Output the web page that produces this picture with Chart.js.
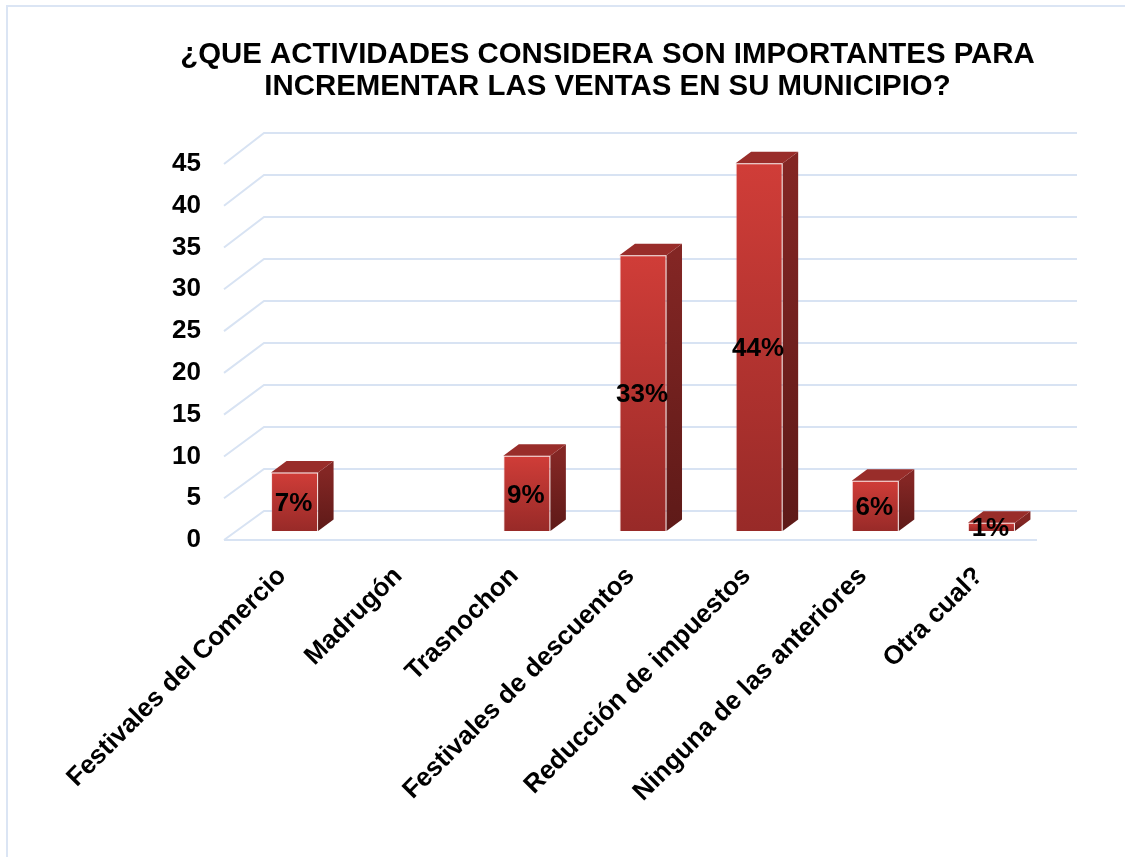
<!DOCTYPE html>
<html>
<head>
<meta charset="utf-8">
<script src="https://cdn.jsdelivr.net/npm/chart.js@4"></script>
<style>
  html, body { margin: 0; background: #fff; }
  #frame { position: absolute; left: 6px; top: 5px; width: 1119px; height: 852px; border-left: 2px solid #dbe5f4; border-top: 2px solid #dbe5f4; box-sizing: border-box; }
  #chart { position: absolute; left: 0; top: 0; }
</style>
</head>
<body>
<div id="frame"></div>
<canvas id="chart" width="1125" height="857"></canvas>
<script>
const titleLines = ["¿QUE ACTIVIDADES CONSIDERA SON IMPORTANTES PARA", "INCREMENTAR LAS VENTAS EN SU MUNICIPIO?"];
const categories = ["Festivales del Comercio", "Madrugón", "Trasnochon", "Festivales de descuentos", "Reducción de impuestos", "Ninguna de las anteriores", "Otra cual?"];
const values = [7, 0, 9, 33, 44, 6, 1];
const yTicks = [0, 5, 10, 15, 20, 25, 30, 35, 40, 45];

const FONT = "'Liberation Sans', Arial, sans-serif";
const WALL_DX = 40, WALL_DY = -29, WALL_SCALE = 1.0053; // back wall is a bit taller than the front plane
const BAR_DX = 12.5, BAR_DY = -9;      // bars stand inside the floor
const SIDE_DX = 15.5, SIDE_DY = -11.5; // bar depth

function frontFill(context) {
    const y = context.chart.scales.y;
    const top = context.parsed ? y.getPixelForValue(context.parsed.y) : NaN;
    const bottom = y.getPixelForValue(0);
    if (!isFinite(top) || !isFinite(bottom)) return "#c53935";
    const g = context.chart.ctx.createLinearGradient(0, top, 0, bottom);
    g.addColorStop(0, "#d03d38");
    g.addColorStop(1, "#982a28");
    return g;
}

function face(ctx, pts, fill) {
    ctx.beginPath();
    pts.forEach((p, i) => i ? ctx.lineTo(p[0], p[1]) : ctx.moveTo(p[0], p[1]));
    ctx.closePath();
    ctx.fillStyle = fill;
    ctx.fill();
}

const floorAndDepth = {
    id: "floorAndDepth",
    afterLayout(chart) {
        // title is centred on the plot plus its axis, not on the canvas
        chart.titleBlock.right = chart.width;
    },
    beforeDatasetsDraw(chart) {
        const ctx = chart.ctx, x = chart.scales.x, y = chart.scales.y;
        const floor = y.getPixelForValue(0);
        ctx.save();
        ctx.strokeStyle = "#d8e3f3";
        ctx.lineWidth = 2;
        y.ticks.forEach(t => {
            const py = y.getPixelForValue(t.value);
            const back = floor + WALL_DY - (floor - py) * WALL_SCALE;
            ctx.beginPath();
            ctx.moveTo(x.left, py);
            ctx.lineTo(x.left + WALL_DX, back);
            ctx.lineTo(x.right + WALL_DX, back);
            ctx.stroke();
        });
        ctx.beginPath();
        ctx.moveTo(x.left, floor);
        ctx.lineTo(x.right, floor);
        ctx.stroke();
        ctx.restore();

        ctx.save();
        ctx.translate(BAR_DX, BAR_DY);
        chart.getDatasetMeta(0).data.forEach((bar, i) => {
            if (!values[i]) return;
            const l = bar.x - bar.width / 2, r = bar.x + bar.width / 2, top = bar.y, bot = bar.base;
            const side = ctx.createLinearGradient(0, top, 0, bot);
            side.addColorStop(0, "#832624");
            side.addColorStop(1, "#5e1a18");
            face(ctx, [[r, top], [r + SIDE_DX, top + SIDE_DY], [r + SIDE_DX, bot + SIDE_DY], [r, bot]], side);
            face(ctx, [[l, top], [l + SIDE_DX, top + SIDE_DY], [r + SIDE_DX, top + SIDE_DY], [r, top]], "#992d2a");
        });
    },
    afterDatasetsDraw(chart) {
        const ctx = chart.ctx;
        ctx.restore();
        ctx.save();
        ctx.font = "bold 26px " + FONT;
        ctx.fillStyle = "#000";
        ctx.textAlign = "center";
        ctx.textBaseline = "middle";
        chart.getDatasetMeta(0).data.forEach((bar, i) => {
            if (!values[i]) return;
            ctx.fillText(values[i] + "%", bar.x + BAR_DX - 1, (bar.y + bar.base) / 2 + BAR_DY + 2);
        });
        ctx.restore();
    }
};

new Chart(document.getElementById("chart"), {
    type: "bar",
    plugins: [floorAndDepth],
    data: {
        labels: categories,
        datasets: [{
            data: values,
            backgroundColor: frontFill,
            borderColor: "rgba(235,170,165,0.3)",
            borderWidth: 1,
            barPercentage: 0.405,
            categoryPercentage: 1,
            clip: false
        }]
    },
    options: {
        responsive: false,
        animation: false,
        layout: { padding: { left: 90, right: 88, top: 39, bottom: 0 } },
        plugins: {
            legend: { display: false },
            tooltip: { enabled: false },
            title: {
                display: true,
                text: titleLines,
                color: "#000",
                font: { family: FONT, weight: "bold", size: 29.4, lineHeight: 1.088 },
                padding: { top: 0, bottom: 61 }
            }
        },
        scales: {
            x: {
                grid: { display: false },
                border: { display: false },
                afterFit(s) { s.height = 317; s.paddingLeft = 0; s.paddingRight = 0; },
                ticks: {
                    autoSkip: false,
                    minRotation: 45,
                    maxRotation: 45,
                    padding: 13,
                    color: "#000",
                    font: { family: FONT, weight: "bold", size: 26 }
                }
            },
            y: {
                min: 0,
                max: 45,
                afterBuildTicks(s) { s.ticks = yTicks.map(v => ({ value: v })); },
                grid: { display: false },
                border: { display: false },
                afterFit(s) { s.width = 134; s.paddingTop = 0; s.paddingBottom = 0; },
                ticks: {
                    padding: 15,
                    color: "#000",
                    font: { family: FONT, weight: "bold", size: 26 }
                }
            }
        }
    }
});
</script>
</body>
</html>
